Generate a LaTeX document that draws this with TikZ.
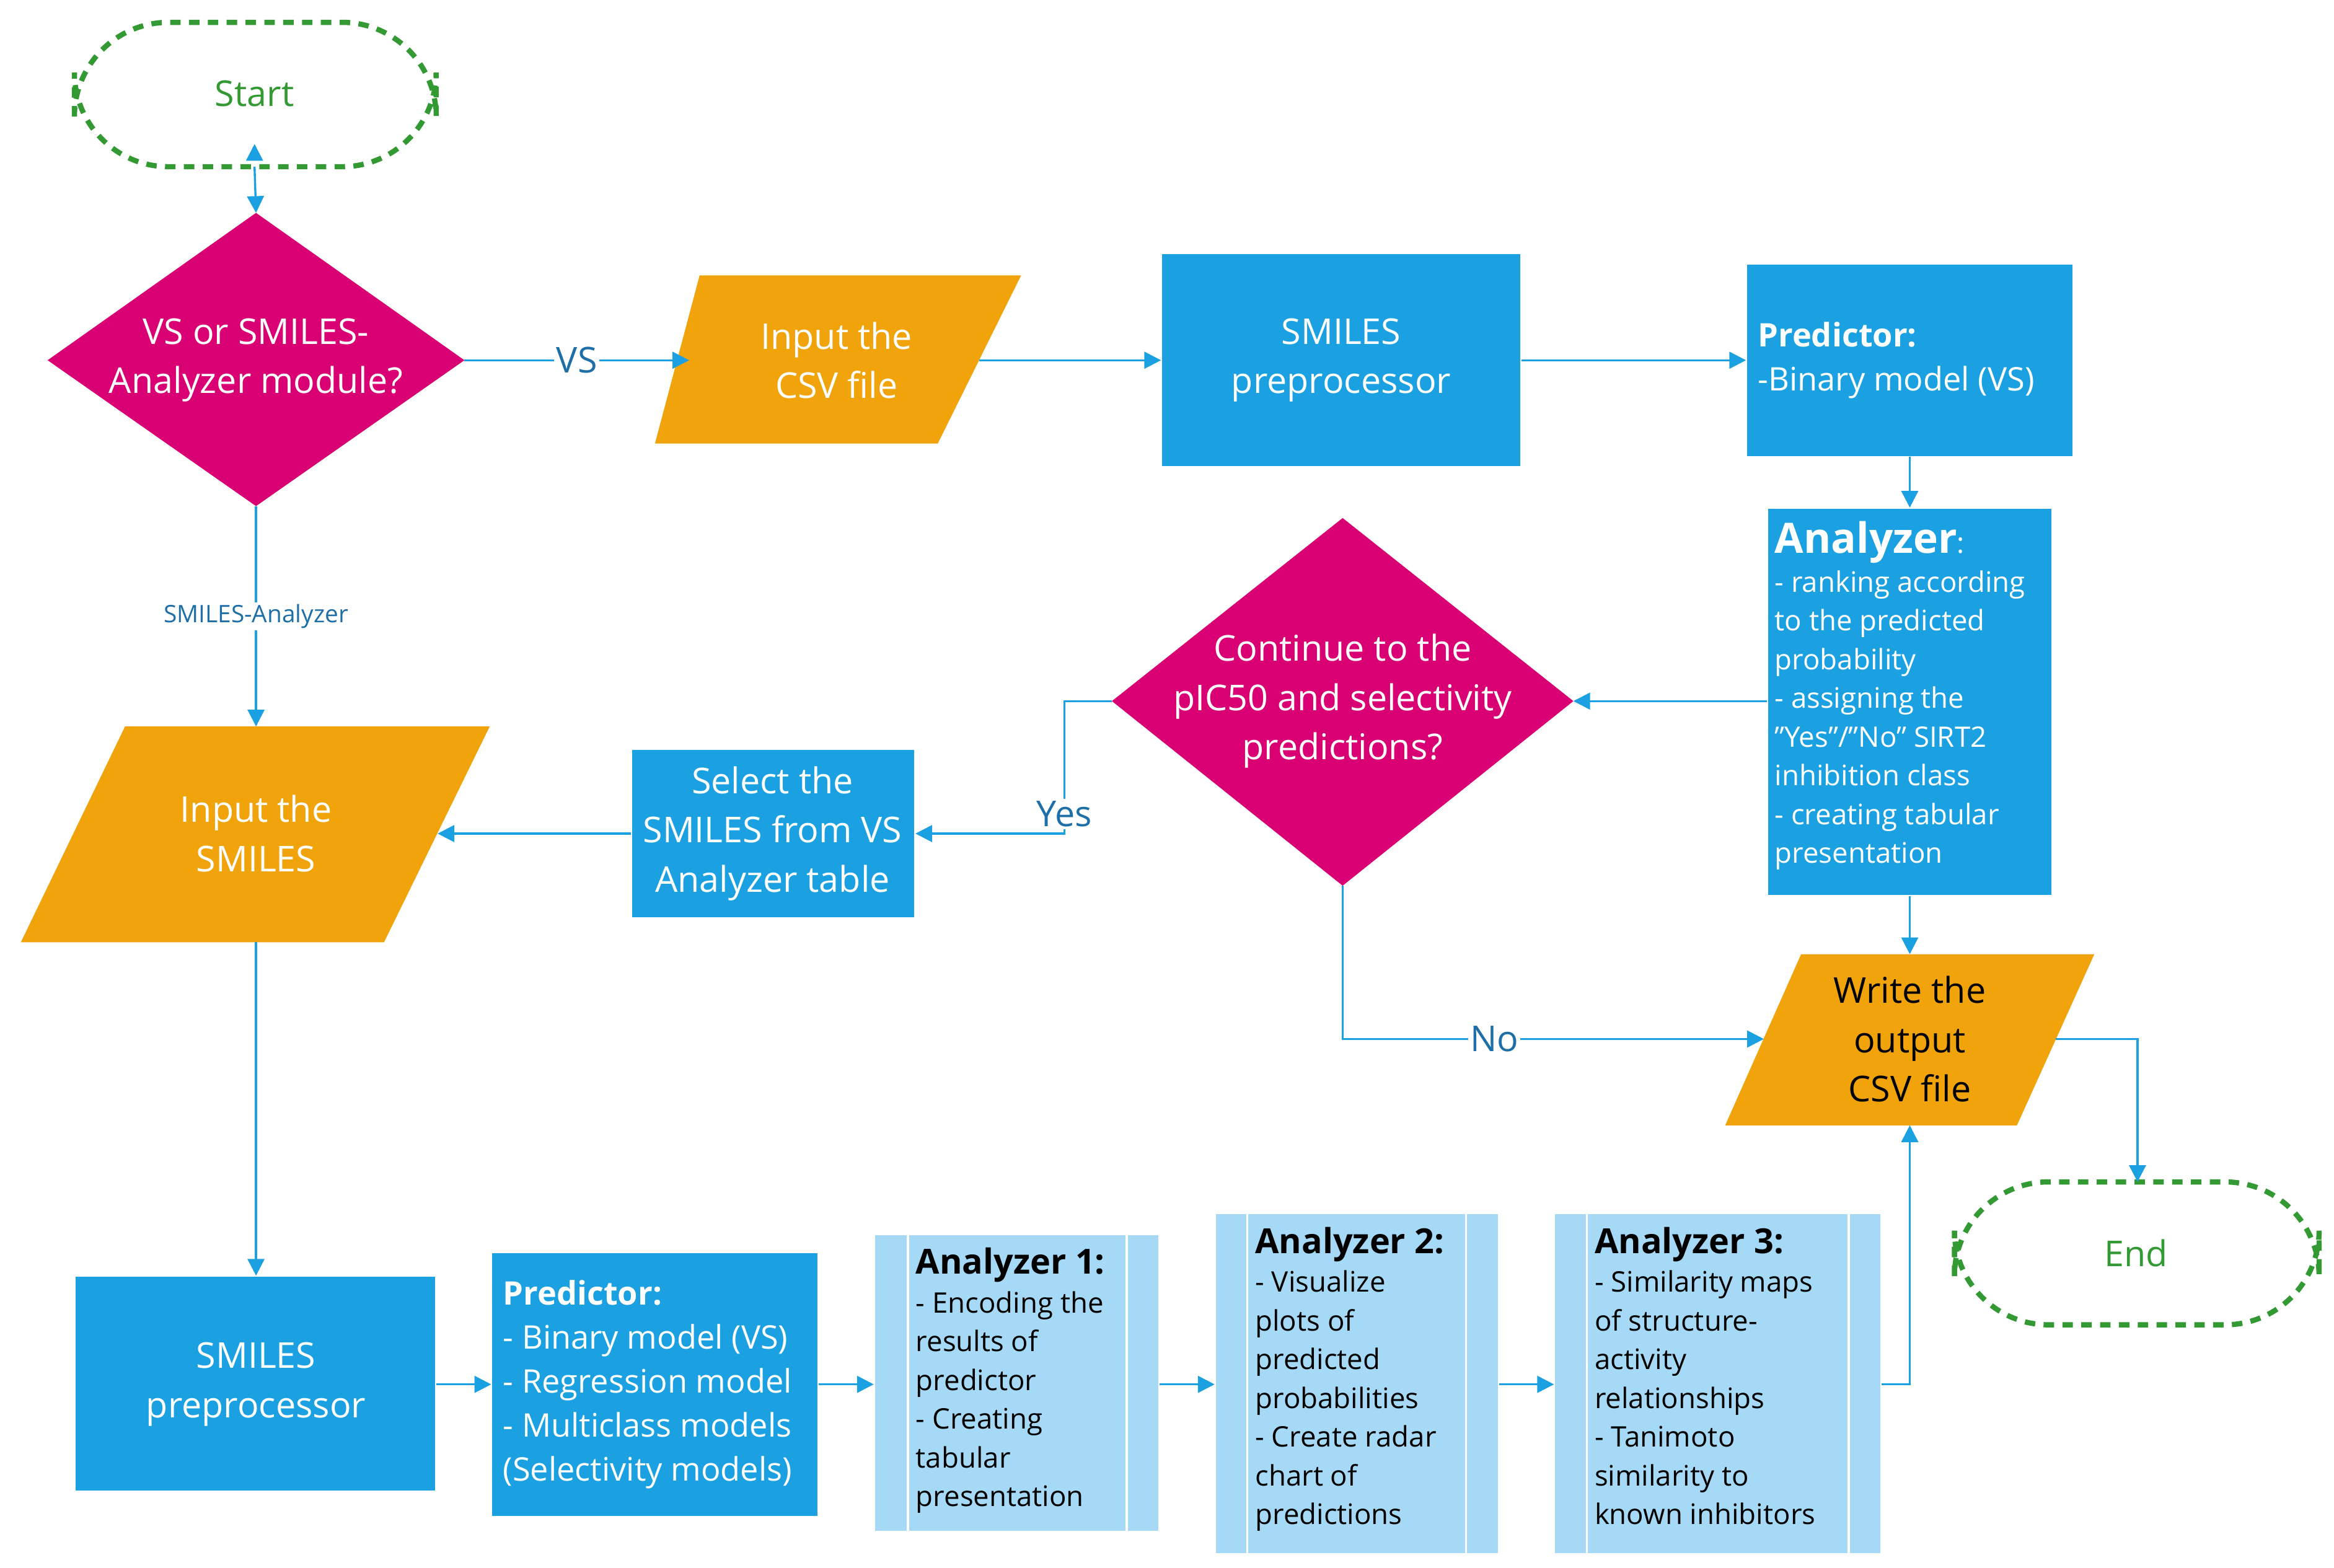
\documentclass[tikz,border=0pt]{standalone}
\usepackage{fontspec}
\setmainfont{Open Sans}
\usetikzlibrary{arrows.meta}
\definecolor{cblue}{HTML}{1BA1E2}
\definecolor{cmag}{HTML}{D80073}
\definecolor{corange}{HTML}{F0A30A}
\definecolor{clight}{HTML}{A6D9F5}
\definecolor{cgreen}{HTML}{339933}
\definecolor{clab}{HTML}{1E6FA8}
\tikzset{
 box/.style={fill=cblue,draw=white,line width=1pt},
 lbox/.style={fill=clight,draw=white,line width=1pt},
 dec/.style={fill=cmag},
 io/.style={fill=corange},
 term/.style={draw=cgreen,dashed,line width=2.5pt,dash pattern=on 5pt off 4pt,rounded corners=45},
 big/.style={font=\fontsize{17}{23.5}\selectfont,align=center,text=white},
 small/.style={font=\fontsize{13.5}{18.5}\selectfont,align=left,text=white},
 mid/.style={font=\fontsize{15.5}{21}\selectfont,align=left,text=white},
 dark/.style={font=\fontsize{13.5}{18.5}\selectfont,align=left,text=black},
 arr/.style={draw=cblue,line width=1pt,-{Triangle[length=8pt,width=8pt]}},
 lab/.style={fill=white,text=clab,inner sep=1pt},
}
\begin{document}
\begin{tikzpicture}[x=0.025cm,y=-0.025cm]
\useasboundingbox (0,0) rectangle (1568,1053);
% terminals
\draw[term] (50,15) rectangle (293,112);
\node[text=cgreen,font=\fontsize{17}{20}\selectfont] (start) at (171,63) {Start};
\draw[term] (1313,794) rectangle (1558,890);
\node[text=cgreen,font=\fontsize{17}{20}\selectfont] (end) at (1435,842) {End};
% diamond 1
\fill[dec] (32,242)--(172,143)--(312,242)--(172,340)--cycle;
\node[big] (d1) at (172,242) {VS or SMILES-\\Analyzer module?};
\coordinate (d1t) at (172,143); \coordinate (d1r) at (312,242); \coordinate (d1b) at (172,340);
% input csv
\fill[io] (440,298)--(470,185)--(686,185)--(630,298)--cycle;
\node[big] (csv) at (562,242) {Input the\\CSV file};
\coordinate (csvl) at (463,242); \coordinate (csvr) at (658,242);
% smiles pre top
\draw[box] (780,170) rectangle (1022,314);
\node[big] (pre1) at (901,242) {SMILES\\preprocessor};
\coordinate (pre1l) at (780,242); \coordinate (pre1r) at (1022,242);
% predictor top
\draw[box] (1173,177) rectangle (1393,307);
\node[mid,anchor=west] (pred1) at (1176,242) {\textbf{Predictor:}\\-Binary model (VS)};
\coordinate (pred1l) at (1173,242); \coordinate (pred1b) at (1283,307);
% analyzer
\draw[box] (1187,341) rectangle (1379,602);
\node[small,anchor=north west,inner sep=0pt] (an) at (1192,350) {{\fontsize{20}{24}\selectfont\textbf{Analyzer}}:\\- ranking according\\to the predicted\\probability\\- assigning the\\"Yes"/"No" SIRT2\\inhibition class\\- creating tabular\\presentation};
\coordinate (ant) at (1283,341); \coordinate (anl) at (1187,471); \coordinate (anb) at (1283,602);
% diamond 2
\fill[dec] (747,471)--(902,348)--(1057,471)--(902,595)--cycle;
\node[big] (d2) at (902,471) {Continue to the\\pIC50 and selectivity\\predictions?};
\coordinate (d2l) at (747,471); \coordinate (d2r) at (1057,471); \coordinate (d2b) at (902,595);
% select
\draw[box] (424,503) rectangle (615,617);
\node[big] (sel) at (519,560) {Select the\\SMILES from VS\\Analyzer table};
\coordinate (sell) at (424,560); \coordinate (selr) at (615,560);
% input smiles
\fill[io] (14,633)--(84,488)--(329,488)--(258,633)--cycle;
\node[big] (ins) at (172,560) {Input the\\SMILES};
\coordinate (inst) at (172,488); \coordinate (insr) at (294,560); \coordinate (insb) at (172,633);
% write output
\fill[io] (1159,756)--(1210,641)--(1407,641)--(1355,756)--cycle;
\node[big,text=black] (wr) at (1283,698) {Write the\\output\\CSV file};
\coordinate (wrt) at (1283,641); \coordinate (wrl) at (1185,698); \coordinate (wrr) at (1381,698); \coordinate (wrb) at (1283,756);
% bottom row
\draw[box] (50,857) rectangle (293,1002);
\node[big] (pre2) at (172,930) {SMILES\\preprocessor};
\coordinate (pre2t) at (172,857); \coordinate (pre2r) at (293,930);
\draw[box] (330,841) rectangle (550,1019);
\node[mid,anchor=west] (pred2) at (333,930) {\textbf{Predictor:}\\- Binary model (VS)\\- Regression model\\- Multiclass models\\(Selectivity models)};
\coordinate (pred2l) at (330,930); \coordinate (pred2r) at (550,930);
\draw[lbox] (587,829) rectangle (779,1029); \draw[white,line width=1pt] (610,829)--(610,1029) (757,829)--(757,1029);
\node[dark,anchor=north west,inner sep=0pt] (a1) at (615,838) {{\fontsize{16.5}{22}\selectfont\textbf{Analyzer 1:}}\\- Encoding the\\results of\\predictor\\- Creating\\tabular\\presentation};
\coordinate (a1l) at (587,930); \coordinate (a1r) at (779,930);
\draw[lbox] (816,815) rectangle (1007,1044); \draw[white,line width=1pt] (838,815)--(838,1044) (985,815)--(985,1044);
\node[dark,anchor=north west,inner sep=0pt] (a2) at (843,824) {{\fontsize{16.5}{22}\selectfont\textbf{Analyzer 2:}}\\- Visualize\\plots of\\predicted\\probabilities\\- Create radar\\chart of\\predictions};
\coordinate (a2l) at (816,930); \coordinate (a2r) at (1007,930);
\draw[lbox] (1044,815) rectangle (1264,1044); \draw[white,line width=1pt] (1066,815)--(1066,1044) (1242,815)--(1242,1044);
\node[dark,anchor=north west,inner sep=0pt] (a3) at (1071,824) {{\fontsize{16.5}{22}\selectfont\textbf{Analyzer 3:}}\\- Similarity maps\\of structure-\\activity\\relationships\\- Tanimoto\\similarity to\\known inhibitors};
\coordinate (a3l) at (1044,930); \coordinate (a3r) at (1264,930);
% connectors
\draw[arr] (start.south) ++(0,20) coordinate (st) ; 
\draw[arr] (171,112) -- (d1t);
\draw[arr] (d1r) -- node[lab,font=\fontsize{17}{20}\selectfont]{VS} (csvl);
\draw[arr] (csvr) -- (pre1l);
\draw[arr] (pre1r) -- (pred1l);
\draw[arr] (pred1b) -- (ant);
\draw[arr] (anl) -- (d2r);
\draw[arr] (d2l) -| (715,530) -- (715,560) node[lab,pos=0,font=\fontsize{17}{20}\selectfont,yshift=-12]{Yes} -- (selr);
\draw[arr] (sell) -- (insr);
\draw[arr] (d1b) -- node[lab,font=\fontsize{11.5}{14}\selectfont]{SMILES-Analyzer} (inst);
\draw[arr] (d2b) |- node[lab,pos=0.68,font=\fontsize{17}{20}\selectfont]{No} (wrl);
\draw[arr] (anb) -- (wrt);
\draw[arr] (wrr) -| (1436,794);
\draw[arr] (insb) -- (pre2t);
\draw[arr] (pre2r) -- (pred2l);
\draw[arr] (pred2r) -- (a1l);
\draw[arr] (a1r) -- (a2l);
\draw[arr] (a2r) -- (a3l);
\draw[arr] (a3r) -| (wrb);
\end{tikzpicture}
\end{document}
